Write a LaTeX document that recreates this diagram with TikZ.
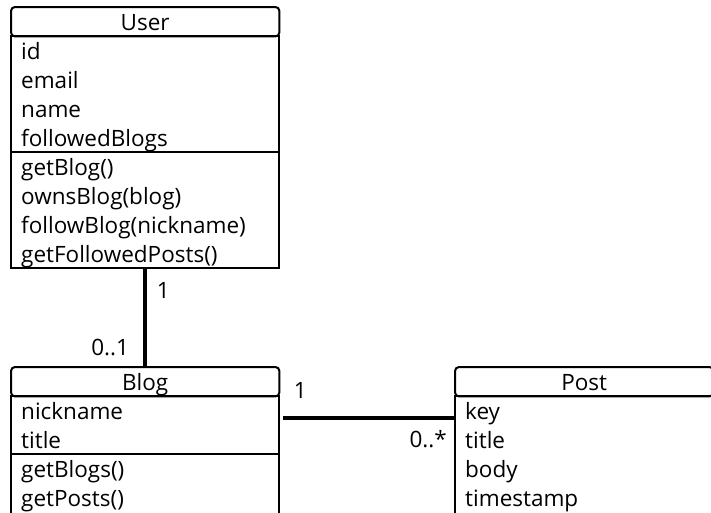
\documentclass[tikz,border=0pt]{standalone}
\usepackage{fontspec}
\setmainfont{Open Sans}
\usetikzlibrary{matrix,calc}

\begin{document}
\begin{tikzpicture}[
  x=1pt,y=-1pt,
  member/.style={text width=#1, inner xsep=10pt, inner ysep=0pt,
    text height=23pt, text depth=6pt, align=left,
    font=\fontsize{22.5}{29}\selectfont},
  member/.default=248pt,
  classname/.style={align=center},
  box/.style={draw,line width=2pt},
  assoc/.style={draw,line width=4pt},
  mult/.style={inner sep=0pt, font=\fontsize{22.5}{29}\selectfont},
]
\path[use as bounding box,clip] (0,0) rectangle (711,512);

%--- classes ------------------------------------------------------------
\matrix (user) [matrix of nodes, nodes={member}, row sep=0pt,
  inner sep=0pt, anchor=north west] at (11,7) {
  |[classname]| User \\
  id \\
  email \\
  name \\
  followedBlogs \\
  getBlog() \\
  ownsBlog(blog) \\
  followBlog(nickname) \\
  getFollowedPosts() \\
};

\matrix (blog) [matrix of nodes, nodes={member}, row sep=0pt,
  inner sep=0pt, anchor=north west] at (11,367) {
  |[classname]| Blog \\
  nickname \\
  title \\
  getBlogs() \\
  getPosts() \\
};

\matrix (post) [matrix of nodes, nodes={member=238pt}, row sep=0pt,
  inner sep=0pt, anchor=north west] at (455,367) {
  |[classname]| Post \\
  key \\
  title \\
  body \\
  timestamp \\
};

%--- boxes ----------------------------------------------------------------
\draw[box,rounded corners=4pt] (user-1-1.north west) rectangle (user-1-1.south east);
\draw[box] (user-2-1.north west) rectangle (user-9-1.south east);
\draw[box] (user-5-1.south west) -- (user-5-1.south east);

\draw[box,rounded corners=4pt] (blog-1-1.north west) rectangle (blog-1-1.south east);
\draw[box] (blog-2-1.north west) rectangle ($(blog-5-1.south east)+(0,6)$);
\draw[box] (blog-3-1.south west) -- (blog-3-1.south east);

\draw[box,rounded corners=4pt] (post-1-1.north west) rectangle (post-1-1.south east);
\draw[box] (post-2-1.north west) rectangle ($(post-5-1.south east)+(0,6)$);

%--- associations -----------------------------------------------------
\draw[assoc] (user-9-1.south) -- (blog-1-1.north);
\node[mult] (userone) at ($(user-9-1.south)+(18,22)$) {1};
\node[mult,anchor=east] (blogzeroone) at ($(blog-1-1.north)+(-16,-20)$) {0..1};

\coordinate (blogend) at ($(blog-2-1.east)+(4,7)$);
\draw[assoc] (blogend) -- (blogend -| post-2-1.west);
\node[mult] (blogone) at ($(blogend)+(17,-27)$) {1};
\node[mult,anchor=base east] (postmany) at ($(blogend -| post-2-1.west)+(-8,30)$) {0..*};

\end{tikzpicture}
\end{document}
